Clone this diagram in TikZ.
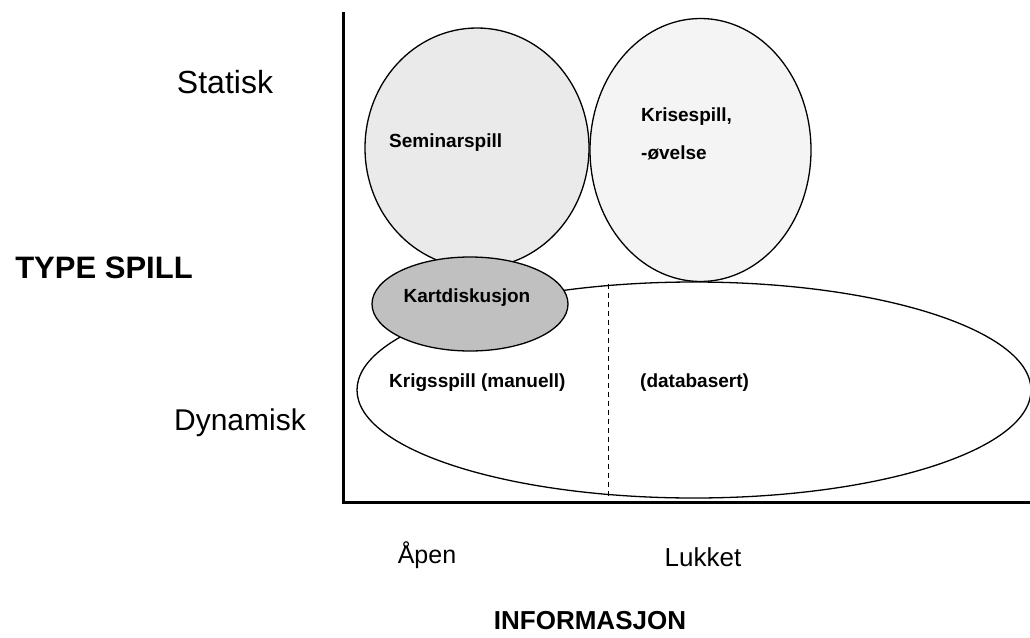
\documentclass[tikz,border=0pt]{standalone}
\usepackage{fontspec}
\setmainfont{Liberation Sans}
\definecolor{semfill}{HTML}{EAEAEA}
\definecolor{krifill}{HTML}{F4F4F4}
\definecolor{kartfill}{HTML}{C0C0C0}
\begin{document}
\begin{tikzpicture}[x=1pt,y=-1pt,
  blob/.style={draw=black,line width=1.3pt},
  inner/.style={font=\bfseries\fontsize{19}{23}\selectfont,inner sep=0pt},
  axlabel/.style={font=\fontsize{30}{34}\selectfont,inner sep=0pt},
  axtitle/.style={font=\bfseries\fontsize{29}{33}\selectfont,inner sep=0pt},
  axis/.style={line width=3pt}]
\useasboundingbox (0,0) rectangle (1030,637);
% shapes
\draw[blob,fill=semfill] (477,148) ellipse [x radius=112,y radius=120];
\draw[blob,fill=krifill] (700.5,150) ellipse [x radius=110.5,y radius=131.5];
\draw[blob,fill=white] (694,390) ellipse [x radius=337,y radius=108];
\coordinate (dtop) at (608,283.5);
\coordinate (dbot) at (608,496);
\draw[line width=1pt,dash pattern=on 5pt off 4pt] (dtop) -- (dbot);
\draw[blob,fill=kartfill] (470,304) ellipse [x radius=98,y radius=47];
% axes
\coordinate (o) at (343,502);
\coordinate (ytop) at (343,12);
\coordinate (xend) at (1030,502);
\draw[axis] (ytop) -- (o) -- (xend);
% inner labels
\node[inner,anchor=west] (sem) at (389,143) {Seminarspill};
\node[inner,anchor=west] (kri) at (641,117) {Krisespill,};
\node[inner,anchor=west] (kri2) at (641,153) {-øvelse};
\node[inner] (kart) at (467,298) {Kartdiskusjon};
\node[inner,anchor=west] (krig) at (389,383) {Krigsspill (manuell)};
\node[inner,anchor=west] (db) at (640,383) {(databasert)};
% axis labels
\node[axlabel,font=\fontsize{32}{36}\selectfont] (stat) at (225,82) {Statisk};
\node[axlabel] (dyn) at (240,423) {Dynamisk};
\node[axtitle,font=\bfseries\fontsize{31}{35}\selectfont] (type) at (104,268) {TYPE SPILL};
\node[axlabel,font=\fontsize{25}{29}\selectfont] (apen) at (427,555) {Åpen};
\node[axlabel,font=\fontsize{26}{30}\selectfont] (luk) at (703,557) {Lukket};
\node[axtitle,font=\bfseries\fontsize{26}{30}\selectfont] (inf) at (590,621) {INFORMASJON};
\end{tikzpicture}
\end{document}
